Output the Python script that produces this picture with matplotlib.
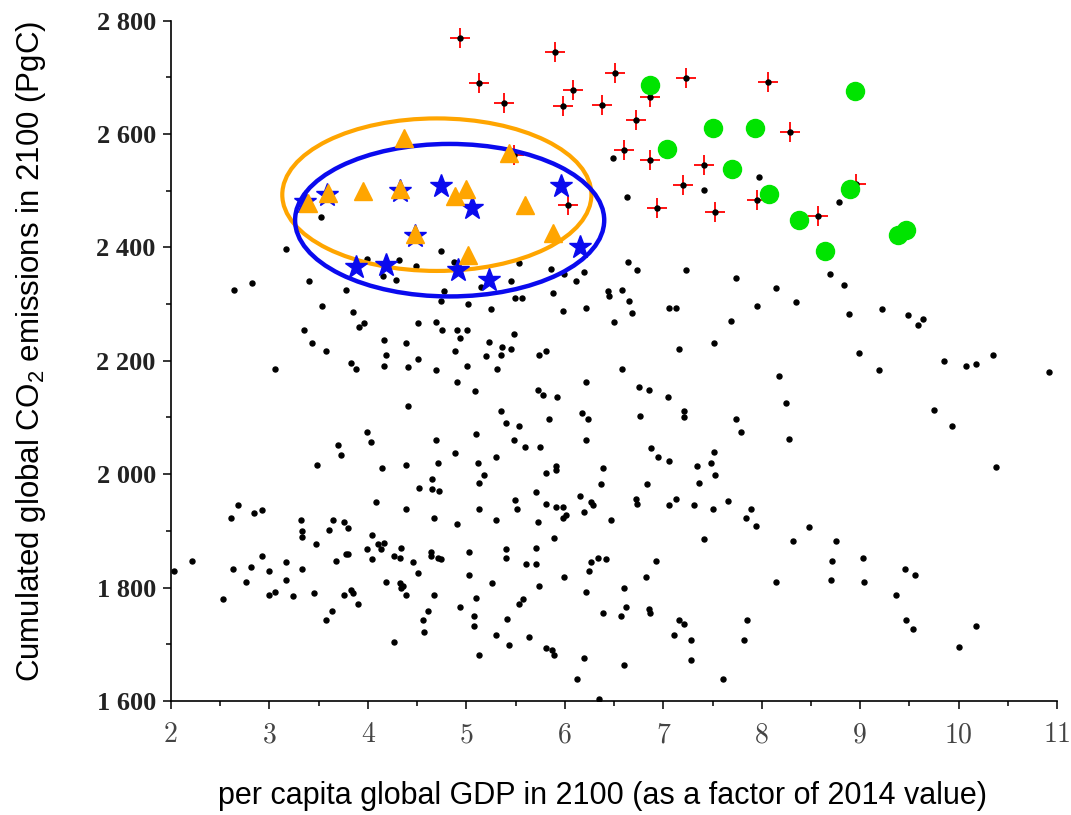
import matplotlib
matplotlib.use('Agg')
import matplotlib.pyplot as plt
from matplotlib.patches import Ellipse
from matplotlib.ticker import MultipleLocator, FuncFormatter

plt.rcParams['mathtext.default'] = 'regular'

# ── data: ensemble runs (GDP factor vs cumulated CO2) ──
gdp_all = [
    3.17, 2.82, 2.64, 3.40, 3.78, 3.99, 4.15, 4.28, 4.32, 4.49, 4.74, 4.87, 4.77, 4.74, 5.02,
    3.53, 3.85, 3.96, 3.91, 3.35, 3.43, 3.57, 3.06, 3.83, 3.88, 4.16, 4.18, 4.16, 4.39, 4.41,
    4.51, 4.51, 4.69, 4.75, 4.90, 5.01, 4.94, 4.88, 4.69, 4.90, 5.01, 4.41, 3.99, 4.03, 3.70,
    3.73, 3.48, 4.14, 4.39, 4.69, 4.71, 4.88,
    5.53, 5.86, 5.99, 6.19, 6.11, 5.45, 5.15, 5.49, 5.56, 5.88, 5.25, 5.98, 6.21, 6.64, 6.73,
    7.23, 7.74, 6.44, 6.45, 6.58, 6.65, 6.68, 6.50, 7.06, 7.13, 7.95, 7.69, 5.23, 5.48, 5.36,
    5.45, 5.35, 5.20, 5.74, 5.81, 5.31, 7.16, 7.52, 6.58, 6.22, 5.09, 5.73, 5.78, 5.92, 6.75,
    6.86, 7.05, 5.35, 5.40, 5.53, 5.84, 6.17, 6.24, 6.76, 7.21, 7.21, 7.74, 7.79, 5.10, 5.48,
    5.60, 5.75, 6.21, 6.88, 6.95, 7.06, 7.52, 7.48, 7.34, 5.12, 5.30, 5.91, 6.39,
    8.69, 8.84, 8.14, 8.35, 8.89, 9.22, 9.49, 9.64, 9.59, 8.99, 9.19, 9.85, 10.07, 10.18, 10.35,
    10.92, 8.18, 8.25, 8.28, 9.75, 9.93, 10.38,
    4.52, 4.65, 4.65, 4.72, 4.08, 4.39, 4.67, 4.90, 2.68, 2.61, 2.84, 2.92, 3.32, 3.33, 3.33,
    3.47, 3.60, 3.65, 3.76, 3.80, 4.04, 4.10, 4.13, 4.16, 3.99, 4.04, 4.34, 4.26, 4.33, 4.46,
    4.64, 4.64, 4.71, 4.74, 4.51, 4.18, 4.33, 4.34, 4.36, 4.39, 4.67, 4.94, 4.61, 4.56, 4.57,
    4.26, 2.03, 2.21, 2.53, 2.63, 2.76, 2.81, 2.92, 2.99, 2.99, 3.06, 3.17, 3.17, 3.24, 3.33,
    3.45, 3.68, 3.78, 3.80, 3.83, 3.85, 3.76, 3.90, 3.63, 3.57, 5.03, 5.03,
    5.18, 5.13, 5.13, 5.30, 5.49, 5.51, 5.71, 5.81, 5.91, 6.37, 5.81, 5.91, 5.98, 5.98, 6.01,
    5.73, 6.15, 6.27, 6.29, 6.19, 6.47, 5.89, 6.83, 6.72, 6.73, 7.06, 7.13, 7.53, 7.36, 7.31,
    7.51, 7.66, 7.41, 7.89, 7.84, 7.94, 5.40, 5.40, 5.71, 5.61, 5.71, 5.26, 5.10, 5.08, 5.08,
    5.74, 5.99, 5.58, 5.53, 5.41, 5.30, 5.43, 5.13, 5.64, 5.81, 5.87, 5.89, 6.34, 6.42, 6.27,
    6.25, 6.22, 6.39, 6.19, 6.12, 6.35, 6.60, 6.62, 6.57, 6.60, 6.82, 6.93, 6.85, 6.87, 7.16,
    7.21, 7.11, 7.28, 7.28, 7.61, 7.85, 7.82,
    8.48, 8.32, 8.75, 8.71, 9.03, 8.14, 8.70, 9.04, 9.46, 9.56, 9.36, 9.47, 9.54, 10.00, 10.18,
    6.49, 6.63, 3.52, 7.41, 7.97, 8.78,
]
co2_all = [
    2397, 2337, 2325, 2340, 2325, 2380, 2349, 2342, 2378, 2367, 2394, 2375, 2323, 2305, 2300,
    2297, 2286, 2266, 2260, 2254, 2231, 2217, 2186, 2197, 2186, 2237, 2211, 2191, 2231, 2189,
    2266, 2203, 2269, 2254, 2254, 2254, 2240, 2217, 2183, 2163, 2191, 2120, 2074, 2057, 2051,
    2034, 2017, 2011, 2017, 2060, 2020, 2037,
    2373, 2362, 2353, 2356, 2340, 2340, 2331, 2311, 2311, 2320, 2291, 2288, 2294, 2374, 2360,
    2360, 2346, 2323, 2314, 2325, 2305, 2285, 2269, 2294, 2294, 2297, 2271, 2234, 2248, 2225,
    2220, 2211, 2208, 2211, 2217, 2186, 2220, 2231, 2186, 2163, 2146, 2149, 2140, 2137, 2154,
    2149, 2137, 2111, 2091, 2085, 2097, 2108, 2097, 2103, 2111, 2100, 2097, 2074, 2071, 2060,
    2048, 2048, 2060, 2046, 2031, 2023, 2040, 2020, 2014, 2020, 2031, 2014, 2011,
    2353, 2334, 2328, 2303, 2283, 2291, 2280, 2274, 2263, 2214, 2183, 2200, 2191, 2194, 2211,
    2180, 2174, 2125, 2062, 2114, 2085, 2013,
    1976, 1991, 1974, 1971, 1951, 1939, 1922, 1913, 1945, 1922, 1931, 1936, 1919, 1899, 1890,
    1876, 1902, 1919, 1916, 1905, 1893, 1876, 1868, 1879, 1868, 1850, 1870, 1856, 1853, 1845,
    1862, 1856, 1853, 1850, 1825, 1810, 1808, 1799, 1802, 1787, 1787, 1765, 1759, 1742, 1721,
    1704, 1830, 1847, 1779, 1833, 1810, 1836, 1856, 1830, 1787, 1793, 1845, 1813, 1785, 1833,
    1790, 1847, 1859, 1859, 1796, 1790, 1787, 1771, 1759, 1742, 1862, 1822,
    1999, 1985, 1939, 1919, 1954, 1939, 1968, 2002, 2008, 1982, 1948, 1942, 1942, 1922, 1928,
    1916, 1962, 1951, 1945, 1934, 1919, 1888, 1982, 1956, 1948, 1945, 1956, 1999, 1985, 1945,
    1939, 1953, 1885, 1939, 1922, 1908, 1868, 1853, 1870, 1842, 1842, 1808, 1782, 1750, 1733,
    1802, 1819, 1779, 1771, 1745, 1716, 1699, 1681, 1713, 1693, 1690, 1681, 1853, 1850, 1845,
    1830, 1793, 1756, 1676, 1638, 1604, 1799, 1765, 1750, 1664, 1819, 1847, 1762, 1756, 1742,
    1736, 1716, 1707, 1673, 1638, 1742, 1707,
    1907, 1882, 1882, 1847, 1853, 1810, 1813, 1810, 1833, 1822, 1787, 1742, 1727, 1696, 1733,
    2558, 2489, 2454, 2502, 2525, 2480,
]

# high-emission runs (red crosses)
gdp_red = [4.94, 5.90, 5.13, 5.38, 6.08, 5.98, 6.51, 6.38, 6.60, 6.72, 5.48, 6.03,
           6.87, 7.23, 8.06, 8.29, 6.87, 7.41, 7.20, 6.94, 7.53, 7.95, 8.57, 8.96]
co2_red = [2769, 2744, 2690, 2655, 2678, 2650, 2707, 2651, 2572, 2624, 2563, 2474,
           2666, 2698, 2692, 2603, 2555, 2546, 2510, 2469, 2463, 2484, 2455, 2511]

# green circles
gdp_green = [6.87, 8.95, 7.50, 7.93, 7.04, 7.70, 8.07, 8.90, 8.38, 9.47, 9.38, 8.64]
co2_green = [2687, 2676, 2610, 2610, 2573, 2539, 2494, 2503, 2449, 2431, 2422, 2393]

# orange triangles
gdp_orange = [4.37, 5.43, 3.59, 3.95, 4.33, 5.00, 4.88, 5.60, 3.39, 4.48, 5.88, 5.02]
co2_orange = [2593, 2566, 2496, 2500, 2503, 2503, 2490, 2475, 2478, 2424, 2426, 2387]

# blue stars
gdp_blue = [3.36, 3.58, 4.33, 4.74, 5.06, 5.96, 6.15, 4.48, 3.88, 4.18, 4.91, 5.23]
co2_blue = [2480, 2493, 2500, 2508, 2469, 2509, 2401, 2421, 2366, 2369, 2360, 2343]

# cluster ellipses: (centre x, centre y, width, height)
ell_orange = (4.70, 2493, 3.14, 269)
ell_blue = (4.83, 2448, 3.14, 269)

# ── figure ──
fig = plt.figure(figsize=(10.71, 8.15), dpi=100)
ax = fig.add_axes([0.1597, 0.1399, 0.8273, 0.8348])

ax.plot(gdp_red, co2_red, linestyle='none', marker='+', ms=15, mew=1.3,
        color='#ff0000', zorder=2)
ax.plot(gdp_all + gdp_red, co2_all + co2_red, linestyle='none', marker='o', ms=3.6,
        color='black', mec='black', zorder=3)

for (cx, cy, w, h), c, lw in [(ell_orange, '#ffa500', 3.0), (ell_blue, '#0a0aee', 3.2)]:
    ax.add_patch(Ellipse((cx, cy), w, h, fill=False, edgecolor=c, lw=lw, zorder=4))

ax.plot(gdp_green, co2_green, linestyle='none', marker='o', ms=13,
        color='#00e400', mec='#00e400', zorder=5)
ax.plot(gdp_blue, co2_blue, linestyle='none', marker='*', ms=17,
        color='#0a0aee', mec='#0a0aee', zorder=5)
ax.plot(gdp_orange, co2_orange, linestyle='none', marker='^', ms=13,
        color='#ffa500', mec='#ffa500', zorder=6)

ax.set_xlim(2, 11)
ax.set_ylim(1600, 2800)
ax.spines['top'].set_visible(False)
ax.spines['right'].set_visible(False)
for s in ('left', 'bottom'):
    ax.spines[s].set_linewidth(1.2)

ax.xaxis.set_major_locator(MultipleLocator(1))
ax.xaxis.set_minor_locator(MultipleLocator(0.5))
ax.yaxis.set_major_locator(MultipleLocator(200))
ax.yaxis.set_minor_locator(MultipleLocator(100))
ax.yaxis.set_major_formatter(FuncFormatter(lambda v, p: f'{int(v):,}'.replace(',', ' ')))
ax.tick_params(which='major', direction='out', length=6, width=1.1)
ax.tick_params(which='minor', direction='out', length=3.5, width=1.1)
ax.tick_params(axis='y', pad=5)
ax.tick_params(axis='x', pad=9)

for lab in ax.get_yticklabels():
    lab.set_fontfamily('Liberation Serif')
    lab.set_fontweight('bold')
    lab.set_fontsize(19)
    lab.set_color('#222222')
for lab in ax.get_xticklabels():
    lab.set_fontfamily('cmr10')
    lab.set_fontsize(20)
    lab.set_color('#444444')

ax.set_xlabel('per capita global GDP in 2100 (as a factor of 2014 value)',
              fontfamily='Liberation Sans', fontsize=22)
ax.set_ylabel('Cumulated global CO$_2$ emissions in 2100 (PgC)',
              fontfamily='Liberation Sans', fontsize=22.5)
ax.xaxis.set_label_coords(0.4865, -0.117)
ax.yaxis.set_label_coords(-0.139, 0.514)

plt.savefig('out.png', dpi=100)
plt.close()
